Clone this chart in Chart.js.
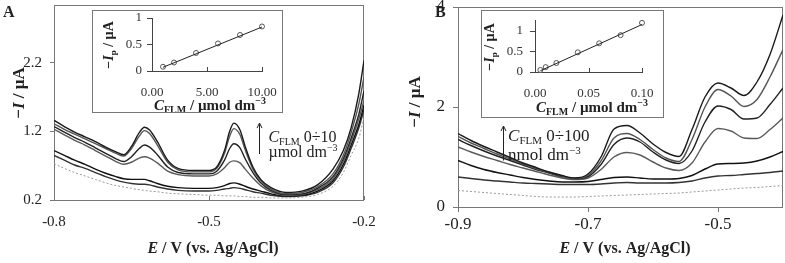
<!DOCTYPE html>
<html>
<head>
<meta charset="utf-8">
<script src="https://cdn.jsdelivr.net/npm/chart.js@4/dist/chart.umd.min.js"></script>
<style>
  body { margin: 0; background: #fff; width: 785px; height: 263px; position: relative; overflow: hidden; }
  canvas { position: absolute; }
  .box { position: absolute; border: 1px solid #777; background: #fff; }
</style>
</head>
<body>
<canvas id="mainA" width="392" height="263" style="left:0;top:0"></canvas>
<canvas id="mainB" width="393" height="263" style="left:392px;top:0"></canvas>
<div class="box" style="left:92px;top:10px;width:189px;height:101px"><canvas id="insetA" width="189" height="101" style="left:0;top:0"></canvas></div>
<div class="box" style="left:481px;top:10px;width:181px;height:106px"><canvas id="insetB" width="181" height="106" style="left:0;top:0"></canvas></div>
<script>
const SERIF = '"Liberation Serif", "Times New Roman", serif';

// panel A: potential (V) and currents (uA), blank + 6 additions
const potentialA = [-0.80, -0.78, -0.76, -0.74, -0.72, -0.70, -0.68, -0.665, -0.65, -0.635, -0.625, -0.615, -0.60, -0.58, -0.56, -0.53, -0.50, -0.485, -0.47, -0.46, -0.452, -0.44, -0.43, -0.415, -0.40, -0.38, -0.35, -0.32, -0.29, -0.26, -0.24, -0.225, -0.21, -0.20];
const blankA = [0.73, 0.66, 0.60, 0.55, 0.50, 0.45, 0.41, 0.39, 0.37, 0.35, 0.34, 0.33, 0.32, 0.30, 0.29, 0.28, 0.27, 0.27, 0.26, 0.26, 0.26, 0.25, 0.25, 0.24, 0.24, 0.23, 0.23, 0.24, 0.28, 0.40, 0.60, 0.85, 1.10, 1.40];
const currentA1 = [0.85, 0.78, 0.71, 0.66, 0.60, 0.54, 0.49, 0.46, 0.44, 0.43, 0.43, 0.42, 0.39, 0.36, 0.34, 0.33, 0.33, 0.34, 0.36, 0.37, 0.38, 0.37, 0.35, 0.32, 0.30, 0.27, 0.25, 0.26, 0.31, 0.45, 0.68, 0.95, 1.25, 1.52];
const currentA2 = [0.92, 0.85, 0.78, 0.72, 0.65, 0.59, 0.54, 0.51, 0.50, 0.50, 0.50, 0.48, 0.44, 0.40, 0.38, 0.37, 0.37, 0.38, 0.41, 0.44, 0.45, 0.43, 0.40, 0.36, 0.33, 0.29, 0.26, 0.27, 0.33, 0.48, 0.72, 1.00, 1.30, 1.58];
const currentA3 = [1.23, 1.15, 1.07, 1.00, 0.92, 0.84, 0.76, 0.72, 0.75, 0.81, 0.83, 0.81, 0.74, 0.62, 0.57, 0.55, 0.55, 0.58, 0.67, 0.75, 0.77, 0.74, 0.65, 0.52, 0.41, 0.32, 0.27, 0.28, 0.35, 0.51, 0.76, 1.05, 1.38, 1.65];
const currentA4 = [1.27, 1.19, 1.11, 1.04, 0.96, 0.88, 0.80, 0.76, 0.83, 0.95, 1.00, 0.97, 0.86, 0.68, 0.60, 0.58, 0.58, 0.62, 0.78, 0.95, 1.02, 0.96, 0.80, 0.60, 0.45, 0.34, 0.28, 0.29, 0.37, 0.54, 0.80, 1.10, 1.45, 1.79];
const currentA5 = [1.31, 1.23, 1.16, 1.09, 1.02, 0.95, 0.88, 0.84, 0.95, 1.13, 1.21, 1.17, 1.00, 0.75, 0.64, 0.61, 0.61, 0.66, 0.88, 1.13, 1.24, 1.15, 0.93, 0.65, 0.48, 0.36, 0.29, 0.31, 0.39, 0.58, 0.85, 1.18, 1.60, 1.99];
const currentA6 = [1.36, 1.27, 1.19, 1.12, 1.05, 0.97, 0.90, 0.86, 0.98, 1.18, 1.26, 1.22, 1.05, 0.78, 0.66, 0.63, 0.63, 0.68, 0.92, 1.20, 1.32, 1.22, 0.98, 0.68, 0.50, 0.38, 0.31, 0.33, 0.42, 0.65, 0.92, 1.25, 1.75, 2.23];

// panel B
const potentialB = [-0.90, -0.88, -0.86, -0.84, -0.82, -0.80, -0.78, -0.76, -0.74, -0.72, -0.70, -0.68, -0.66, -0.64, -0.62, -0.60, -0.58, -0.56, -0.54, -0.52, -0.50, -0.48, -0.46, -0.44, -0.42, -0.40];
const blankB = [0.33, 0.31, 0.29, 0.27, 0.25, 0.23, 0.21, 0.20, 0.20, 0.20, 0.21, 0.22, 0.23, 0.24, 0.25, 0.26, 0.27, 0.28, 0.30, 0.32, 0.34, 0.36, 0.38, 0.39, 0.41, 0.43];
const currentB1 = [0.60, 0.57, 0.54, 0.52, 0.50, 0.48, 0.47, 0.46, 0.45, 0.45, 0.45, 0.46, 0.48, 0.49, 0.48, 0.48, 0.48, 0.49, 0.52, 0.58, 0.62, 0.63, 0.65, 0.67, 0.69, 0.72];
const currentB2 = [0.93, 0.83, 0.75, 0.69, 0.64, 0.59, 0.55, 0.52, 0.50, 0.50, 0.51, 0.55, 0.59, 0.60, 0.58, 0.56, 0.56, 0.57, 0.63, 0.76, 0.86, 0.87, 0.88, 0.92, 1.00, 1.11];
const currentB3 = [1.20, 1.10, 1.01, 0.93, 0.85, 0.78, 0.71, 0.64, 0.58, 0.55, 0.58, 0.75, 1.00, 1.09, 1.04, 0.90, 0.78, 0.73, 0.88, 1.30, 1.57, 1.52, 1.38, 1.37, 1.55, 1.78];
const currentB4 = [1.35, 1.23, 1.12, 1.02, 0.93, 0.84, 0.75, 0.68, 0.61, 0.57, 0.61, 0.85, 1.25, 1.38, 1.30, 1.10, 0.94, 0.87, 1.12, 1.70, 2.02, 1.95, 1.76, 1.78, 2.05, 2.38];
const currentB5 = [1.41, 1.28, 1.17, 1.06, 0.96, 0.86, 0.77, 0.69, 0.62, 0.57, 0.63, 0.92, 1.38, 1.47, 1.35, 1.15, 0.98, 0.91, 1.35, 2.00, 2.35, 2.22, 2.01, 2.15, 2.60, 3.15];
const currentB6 = [1.47, 1.33, 1.21, 1.10, 0.99, 0.88, 0.79, 0.70, 0.63, 0.58, 0.66, 1.00, 1.56, 1.63, 1.48, 1.26, 1.09, 1.01, 1.55, 2.20, 2.48, 2.38, 2.23, 2.50, 3.05, 3.84];

// calibration insets
const concA = [1, 2, 4, 6, 8, 10];
const peakA = [0.08, 0.16, 0.34, 0.52, 0.68, 0.84];
const fitConcA = [1, 10];
const fitPeakA = [0.07, 0.83];
const concB = [0.005, 0.01, 0.02, 0.04, 0.06, 0.08, 0.10];
const peakB = [0.05, 0.12, 0.22, 0.48, 0.70, 0.90, 1.20];
const fitConcB = [0.005, 0.10];
const fitPeakB = [0.03, 1.16];

// ticks
const xTicksA = [-0.8, -0.5, -0.2];
const yTicksA = [0.2, 1.2, 2.2];
const xTicksB = [-0.9, -0.7, -0.5];
const yTicksB = [0, 2, 4];
const xTicksInsetA = [0, 5, 10];
const xTicksInsetB = [0, 0.05, 0.1];
const yTicksInset = [0, 0.5, 1];

const pts = (xs, ys) => xs.map((x, i) => ({ x: x, y: ys[i] }));
const lineColors = ['#1a1a1a', '#555', '#222', '#5a5a5a', '#111', '#333'];

function rich(ctx, x, y, parts, align, rot) {
  ctx.save();
  ctx.translate(x, y);
  if (rot) ctx.rotate(-Math.PI / 2);
  ctx.textBaseline = 'alphabetic';
  let w = 0;
  parts.forEach(p => { ctx.font = p.f; p.w = ctx.measureText(p.t).width; w += p.w; });
  let cx = align === 'left' ? 0 : -w / 2;
  parts.forEach(p => {
    ctx.font = p.f;
    ctx.fillStyle = '#222';
    ctx.fillText(p.t, cx, p.dy || 0);
    cx += p.w;
  });
  ctx.restore();
}

function arrow(ctx, x, y0, y1) {
  ctx.save();
  ctx.strokeStyle = '#222';
  ctx.lineWidth = 1;
  ctx.beginPath();
  ctx.moveTo(x + 0.5, y0);
  ctx.lineTo(x + 0.5, y1);
  ctx.moveTo(x - 2, y1 + 5);
  ctx.lineTo(x + 0.5, y1);
  ctx.lineTo(x + 3, y1 + 5);
  ctx.stroke();
  ctx.restore();
}

const fixAxis = (w, h) => s => {
  if (w !== undefined) s.width = w;
  if (h !== undefined) s.height = h;
  s.paddingTop = 0; s.paddingBottom = 0; s.paddingLeft = 0; s.paddingRight = 0;
};

function curveSets(xs, blank, list) {
  const sets = [{
    data: pts(xs, blank), borderColor: '#999', borderWidth: 1, borderDash: [2, 2],
    pointRadius: 0, cubicInterpolationMode: 'monotone'
  }];
  list.forEach((ys, i) => sets.push({
    data: pts(xs, ys), borderColor: lineColors[i], borderWidth: 1.4,
    pointRadius: 0, cubicInterpolationMode: 'monotone'
  }));
  return sets;
}

function mainChart(id, cfg) {
  return new Chart(document.getElementById(id), {
    type: 'line',
    data: { datasets: curveSets(cfg.xs, cfg.blank, cfg.curves) },
    options: {
      responsive: false, animation: false, devicePixelRatio: 1,
      layout: { padding: cfg.padding },
      plugins: { legend: { display: false }, tooltip: { enabled: false } },
      scales: {
        x: {
          type: 'linear', min: cfg.xMin, max: cfg.xMax,
          afterBuildTicks: s => { s.ticks = cfg.xTicks.map(v => ({ value: v })); },
          afterFit: fixAxis(undefined, cfg.xHeight),
          border: { display: false },
          grid: { drawOnChartArea: false, drawTicks: cfg.xTickOut, tickLength: 5, color: '#777' },
          ticks: { padding: cfg.xPad, color: '#222', font: { family: SERIF, size: cfg.tickSize }, maxRotation: 0,
                   callback: v => v.toFixed(1) }
        },
        y: {
          min: cfg.yMin, max: cfg.yMax,
          afterBuildTicks: s => { s.ticks = cfg.yTicks.map(v => ({ value: v })); },
          afterFit: fixAxis(cfg.yWidth, undefined),
          border: { display: false },
          grid: { drawOnChartArea: false, drawTicks: true, tickLength: cfg.yTick, color: '#777' },
          ticks: { padding: 8, color: '#222', font: { family: SERIF, size: cfg.tickSize },
                   callback: cfg.yFmt }
        }
      }
    },
    plugins: [{
      id: 'deco',
      beforeDatasetsDraw(chart) {
        const { ctx, chartArea: a } = chart;
        ctx.save();
        ctx.strokeStyle = '#777';
        ctx.lineWidth = 1;
        ctx.strokeRect(a.left + 0.5, a.top + 0.5, a.right - a.left - 1, a.bottom - a.top);
        if (!cfg.xTickOut) {
          const sx = chart.scales.x;
          ctx.beginPath();
          cfg.xTicks.forEach(v => {
            const px = Math.round(sx.getPixelForValue(v)) + 0.5;
            ctx.moveTo(px, a.bottom); ctx.lineTo(px, a.bottom - 4);
          });
          ctx.stroke();
        }
        ctx.restore();
      },
      afterDraw(chart) {
        const { ctx } = chart;
        const sx = chart.scales.x, sy = chart.scales.y;
        const b = '700 ';
        rich(ctx, cfg.panelPos[0], cfg.panelPos[1], [{ t: cfg.panel, f: b + '16px ' + SERIF }], 'left');
        rich(ctx, cfg.xTitle[0], cfg.xTitle[1], [
          { t: 'E', f: 'italic 700 16px ' + SERIF },
          { t: ' / V (vs. Ag/AgCl)', f: b + '16px ' + SERIF }
        ]);
        rich(ctx, cfg.yTitle[0], cfg.yTitle[1], [
          { t: '\u2212', f: b + '17px ' + SERIF },
          { t: 'I', f: 'italic 700 17px ' + SERIF },
          { t: ' / \u00b5A', f: b + '17px ' + SERIF }
        ], 'center', true);
        const n = cfg.note;
        arrow(ctx, Math.round(sx.getPixelForValue(n.ax)), sy.getPixelForValue(n.ay0), sy.getPixelForValue(n.ay1));
        const tx = sx.getPixelForValue(n.tx);
        const fs = n.size;
        rich(ctx, tx, sy.getPixelForValue(n.ty1), [
          { t: 'C', f: 'italic ' + fs + 'px ' + SERIF },
          { t: 'FLM', f: Math.round(fs * 0.65) + 'px ' + SERIF, dy: 3 },
          { t: ' 0\u00f7' + n.range, f: fs + 'px ' + SERIF }
        ], 'left');
        rich(ctx, tx, sy.getPixelForValue(n.ty2), [
          { t: n.unit + 'mol dm', f: fs + 'px ' + SERIF },
          { t: '\u22123', f: Math.round(fs * 0.65) + 'px ' + SERIF, dy: -6 }
        ], 'left');
      }
    }]
  });
}

mainChart('mainA', {
  xs: potentialA, blank: blankA,
  curves: [currentA6, currentA5, currentA4, currentA3, currentA2, currentA1],
  padding: { left: 0, right: 28, top: 5, bottom: 0 },
  xMin: -0.8, xMax: -0.2, yMin: 0.2, yMax: 3.04,
  xTicks: xTicksA, yTicks: yTicksA,
  xHeight: 63, yWidth: 54, xTickOut: false, xPad: 13, yTick: 4, tickSize: 15,
  yFmt: v => v.toFixed(1),
  panel: 'A', panelPos: [3, 17], xTitle: [213, 253], yTitle: [24, 93],
  note: { ax: -0.403, ay0: 0.87, ay1: 1.32, tx: -0.385, ty1: 1.04, ty2: 0.82, size: 16, range: '10', unit: '\u00b5' }
});

mainChart('mainB', {
  xs: potentialB, blank: blankB,
  curves: [currentB6, currentB5, currentB4, currentB3, currentB2, currentB1],
  padding: { left: 0, right: 2, top: 7, bottom: 0 },
  xMin: -0.9, xMax: -0.4, yMin: 0, yMax: 4,
  xTicks: xTicksB, yTicks: yTicksB,
  xHeight: 56, yWidth: 66, xTickOut: true, xPad: 2, yTick: 5, tickSize: 17,
  yFmt: v => String(v),
  panel: 'B', panelPos: [43, 17], xTitle: [233, 253], yTitle: [28, 102],
  note: { ax: -0.831, ay0: 0.93, ay1: 1.62, tx: -0.823, ty1: 1.33, ty2: 0.95, size: 17, range: '100', unit: 'n' }
});

function insetChart(id, cfg) {
  return new Chart(document.getElementById(id), {
    type: 'line',
    data: {
      datasets: [
        { data: pts(cfg.fitX, cfg.fitY), borderColor: '#222', borderWidth: 1, pointRadius: 0 },
        { data: pts(cfg.xs, cfg.ys), showLine: false, pointRadius: 2.5, pointBorderWidth: 1, clip: false,
          pointBorderColor: '#555', pointBackgroundColor: '#fff' }
      ]
    },
    options: {
      responsive: false, animation: false, devicePixelRatio: 1,
      layout: { padding: cfg.padding },
      plugins: { legend: { display: false }, tooltip: { enabled: false } },
      scales: {
        x: {
          type: 'linear', min: 0, max: cfg.xMax,
          afterBuildTicks: s => { s.ticks = cfg.xTicks.map(v => ({ value: v })); },
          afterFit: fixAxis(undefined, cfg.xHeight),
          border: { display: true, color: '#444' },
          grid: { drawOnChartArea: false, drawTicks: false },
          ticks: { padding: 14, color: '#333', font: { family: SERIF, size: 13 }, maxRotation: 0,
                   callback: v => v.toFixed(2) }
        },
        y: {
          min: 0, max: cfg.yMax,
          afterBuildTicks: s => { s.ticks = yTicksInset.map(v => ({ value: v })); },
          afterFit: fixAxis(cfg.yWidth, undefined),
          border: { display: true, color: '#444' },
          grid: { drawOnChartArea: false, drawTicks: true, tickLength: 5, color: '#444' },
          ticks: { padding: cfg.yPad, color: '#333', font: { family: SERIF, size: 13 }, callback: v => String(v) }
        }
      }
    },
    plugins: [{
      id: 'insetDeco',
      afterDraw(chart) {
        const { ctx, chartArea: a } = chart;
        const sx = chart.scales.x;
        ctx.save();
        ctx.strokeStyle = '#444';
        ctx.beginPath();
        cfg.xTicks.forEach(v => {
          const px = Math.round(sx.getPixelForValue(v)) + 0.5;
          ctx.moveTo(px, a.bottom); ctx.lineTo(px, a.bottom - 4);
        });
        ctx.stroke();
        ctx.restore();
        rich(ctx, cfg.xTitle[0], cfg.xTitle[1], [
          { t: 'C', f: 'italic 700 15px ' + SERIF },
          { t: 'FLM', f: '700 10px ' + SERIF, dy: 3 },
          { t: ' / \u00b5mol dm', f: '700 15px ' + SERIF },
          { t: '\u22123', f: '700 10px ' + SERIF, dy: -6 }
        ]);
        rich(ctx, cfg.yTitle[0], cfg.yTitle[1], [
          { t: '\u2212', f: '700 14px ' + SERIF },
          { t: 'I', f: 'italic 700 14px ' + SERIF },
          { t: 'p', f: '700 9px ' + SERIF, dy: 3 },
          { t: ' / \u00b5A', f: '700 14px ' + SERIF }
        ], 'center', true);
      }
    }]
  });
}

insetChart('insetA', {
  xs: concA, ys: peakA, fitX: fitConcA, fitY: fitPeakA,
  xMax: 10, yMax: 1, xTicks: xTicksInsetA,
  padding: { left: 0, right: 20, top: 7, bottom: 0 },
  xHeight: 41, yWidth: 59, yPad: 5,
  xTitle: [117, 99], yTitle: [20, 34]
});

insetChart('insetB', {
  xs: concB, ys: peakB, fitX: fitConcB, fitY: fitPeakB,
  xMax: 0.1, yMax: 1.27, xTicks: xTicksInsetB,
  padding: { left: 0, right: 21, top: 9, bottom: 0 },
  xHeight: 45, yWidth: 53, yPad: 7,
  xTitle: [110, 101], yTitle: [12, 36]
});
</script>
</body>
</html>
